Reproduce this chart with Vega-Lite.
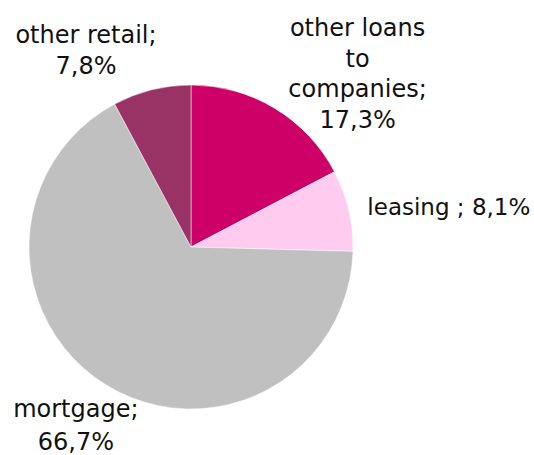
{
  "$schema": "https://vega.github.io/schema/vega-lite/v6.json",
  "autosize": {"type": "none"},
  "width": 324,
  "height": 324,
  "padding": {"left": 29, "top": 85, "right": 181, "bottom": 46},
  "background": "#ffffff",
  "config": {"view": {"stroke": null}},
  "data": {
    "values": [
      {"category": "other loans to companies", "share": 17.3, "order": 1, "label": "other loans\nto\ncompanies;\n17,3%"},
      {"category": "leasing", "share": 8.1, "order": 2, "label": "leasing ; 8,1%"},
      {"category": "mortgage", "share": 66.7, "order": 3, "label": "mortgage;\n66,7%"},
      {"category": "other retail", "share": 7.8, "order": 4, "label": "other retail;\n7,8%"}
    ]
  },
  "encoding": {
    "theta": {"field": "share", "type": "quantitative", "stack": true},
    "order": {"field": "order", "type": "quantitative"}
  },
  "layer": [
    {
      "mark": {"type": "arc", "stroke": "#ffffff", "strokeWidth": 0.5},
      "encoding": {
        "color": {
          "field": "category",
          "type": "nominal",
          "scale": {
            "domain": ["other loans to companies", "leasing", "mortgage", "other retail"],
            "range": ["#CC0066", "#FFCCF0", "#C0C0C0", "#993366"]
          },
          "legend": null
        }
      }
    },
    {
      "mark": {"type": "text", "radius": 246.5, "dx": 39, "align": "center", "baseline": "alphabetic", "lineBreak": "\n", "lineHeight": 30.5, "font": "DejaVu Sans", "fontSize": 24, "color": "#111111"},
      "encoding": {"text": {"condition": {"test": "datum.category === 'other loans to companies'", "field": "label"}, "value": ""}}
    },
    {
      "mark": {"type": "text", "radius": 180, "dx": 1, "dy": 9, "align": "left", "baseline": "alphabetic", "lineBreak": "\n", "lineHeight": 30.5, "font": "DejaVu Sans", "fontSize": 23, "color": "#111111"},
      "encoding": {"text": {"condition": {"test": "datum.category === 'leasing'", "field": "label"}, "value": ""}}
    },
    {
      "mark": {"type": "text", "radius": 200, "dx": -10, "align": "center", "baseline": "alphabetic", "lineBreak": "\n", "lineHeight": 32.5, "font": "DejaVu Sans", "fontSize": 24, "color": "#111111"},
      "encoding": {"text": {"condition": {"test": "datum.category === 'mortgage'", "field": "label"}, "value": ""}}
    },
    {
      "mark": {"type": "text", "radius": 210, "dx": -54, "align": "center", "baseline": "alphabetic", "lineBreak": "\n", "lineHeight": 30.5, "font": "DejaVu Sans", "fontSize": 24, "color": "#111111"},
      "encoding": {"text": {"condition": {"test": "datum.category === 'other retail'", "field": "label"}, "value": ""}}
    }
  ]
}
